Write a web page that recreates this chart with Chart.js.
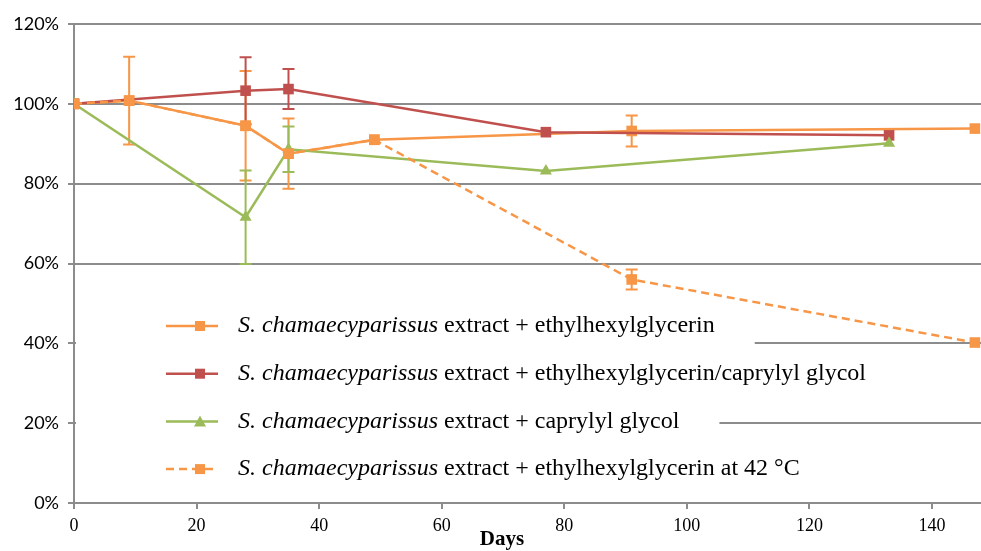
<!DOCTYPE html>
<html>
<head>
<meta charset="utf-8">
<script src="https://cdn.jsdelivr.net/npm/chart.js@4/dist/chart.umd.min.js"></script>
<style>
  html, body { margin: 0; padding: 0; background: #fff; }
  canvas { display: block; }
</style>
</head>
<body>
<canvas id="stabilityChart" width="981" height="551"></canvas>
<script>
// species name is set in italics in the legend
const species = 'S. chamaecyparissus';
const seriesNames = [
    ' extract + ethylhexylglycerin',
    ' extract + ethylhexylglycerin/caprylyl glycol',
    ' extract + caprylyl glycol',
    ' extract + ethylhexylglycerin at 42 \u00B0C'
];

// days of sampling and remaining content (%) per series
const daysEhg = [0, 9, 28, 35, 49, 91, 147];
const valsEhg = [100, 100.8, 94.5, 87.5, 91, 93.2, 93.8];
const errEhg = [0, 11, 13.7, 8.8, 0, 3.9, 0];

const daysEhgCg = [0, 28, 35, 77, 133];
const valsEhgCg = [100, 103.3, 103.7, 92.9, 92.1];
const errEhgCg = [0, 8.4, 5, 0, 0];

const daysCg = [0, 28, 35, 77, 133];
const valsCg = [100, 71.6, 88.6, 83.2, 90.1];
const errCg = [0, 11.7, 5.7, 0, 0];

const daysHot = [0, 9, 28, 35, 49, 91, 147];
const valsHot = [100, 100.8, 94.5, 87.5, 91, 56, 40.2];
const errHot = [0, 0, 0, 0, 0, 2.5, 0];

const yTicks = [0, 20, 40, 60, 80, 100, 120];

const ORANGE = '#F79646';
const RED = '#C0504D';
const GREEN = '#9BBB59';
const GRID = '#8C8C8C';
const LEGEND_FONT = '24px "Liberation Serif"';

const toPoints = (days, vals) => days.map((d, i) => ({ x: d, y: vals[i] }));

// vertical error bars with caps, drawn under the markers
const errorBars = {
    id: 'errorBars',
    beforeDatasetsDraw(chart) {
        const { ctx, scales: { x, y } } = chart;
        chart.data.datasets.forEach((ds) => {
            if (!ds.errors) {
                return;
            }
            ctx.save();
            ctx.strokeStyle = ds.borderColor;
            ctx.lineWidth = 2;
            ds.data.forEach((p, i) => {
                const e = ds.errors[i];
                if (!e) {
                    return;
                }
                const px = x.getPixelForValue(p.x);
                const top = y.getPixelForValue(p.y + e);
                const bot = y.getPixelForValue(p.y - e);
                ctx.beginPath();
                ctx.moveTo(px, top);
                ctx.lineTo(px, bot);
                ctx.moveTo(px - 6, top);
                ctx.lineTo(px + 6, top);
                ctx.moveTo(px - 6, bot);
                ctx.lineTo(px + 6, bot);
                ctx.stroke();
            });
            ctx.restore();
        });
    }
};

// legend inside the plot, with white boxes behind the entries
const insideLegend = {
    id: 'insideLegend',
    beforeDatasetsDraw(chart) {
        const { ctx, chartArea } = chart;
        ctx.save();
        chart.data.datasets.forEach((ds, row) => {
            const cy = 326 + row * 47.7;
            ctx.font = 'italic ' + LEGEND_FONT;
            const w1 = ctx.measureText(species).width;
            ctx.font = LEGEND_FONT;
            const w2 = ctx.measureText(ds.rest).width;
            const textEnd = 238 + w1 + w2;

            ctx.fillStyle = '#fff';
            ctx.fillRect(chartArea.left + 2, cy - 22, textEnd + 40 - chartArea.left - 2, 44);

            ctx.strokeStyle = ds.borderColor;
            ctx.lineWidth = 2.5;
            ctx.setLineDash(ds.borderDash || []);
            ctx.beginPath();
            ctx.moveTo(166, cy);
            ctx.lineTo(218, cy);
            ctx.stroke();
            ctx.setLineDash([]);

            ctx.fillStyle = ds.borderColor;
            ctx.beginPath();
            if (ds.pointStyle === 'triangle') {
                ctx.moveTo(200, cy - 6);
                ctx.lineTo(206, cy + 5);
                ctx.lineTo(194, cy + 5);
                ctx.closePath();
            } else {
                ctx.rect(195, cy - 5, 10, 10);
            }
            ctx.fill();

            ctx.fillStyle = '#000';
            ctx.textBaseline = 'middle';
            ctx.font = 'italic ' + LEGEND_FONT;
            ctx.fillText(species, 238, cy);
            ctx.font = LEGEND_FONT;
            ctx.fillText(ds.rest, 238 + w1, cy);
        });
        ctx.restore();
    },
    afterDraw(chart) {
        const { ctx } = chart;
        ctx.save();
        ctx.fillStyle = '#000';
        ctx.font = 'bold 21px "Liberation Serif"';
        ctx.textAlign = 'center';
        ctx.textBaseline = 'middle';
        ctx.fillText('Days', 502, 540);
        ctx.restore();
    }
};

const ctx = document.getElementById('stabilityChart').getContext('2d');

new Chart(ctx, {
    type: 'line',
    data: {
        datasets: [
            {
                label: species + seriesNames[0],
                rest: seriesNames[0],
                data: toPoints(daysEhg, valsEhg),
                errors: errEhg,
                borderColor: ORANGE,
                backgroundColor: ORANGE,
                borderWidth: 2.5,
                pointStyle: 'rect',
                pointRadius: 7.5,
                pointBorderWidth: 0,
                order: 4
            },
            {
                label: species + seriesNames[1],
                rest: seriesNames[1],
                data: toPoints(daysEhgCg, valsEhgCg),
                errors: errEhgCg,
                borderColor: RED,
                backgroundColor: RED,
                borderWidth: 2.5,
                pointStyle: 'rect',
                pointRadius: 7.5,
                pointBorderWidth: 0,
                order: 3
            },
            {
                label: species + seriesNames[2],
                rest: seriesNames[2],
                data: toPoints(daysCg, valsCg),
                errors: errCg,
                borderColor: GREEN,
                backgroundColor: GREEN,
                borderWidth: 2.5,
                pointStyle: 'triangle',
                pointRadius: 7,
                pointBorderWidth: 0,
                order: 2
            },
            {
                label: species + seriesNames[3],
                rest: seriesNames[3],
                data: toPoints(daysHot, valsHot),
                errors: errHot,
                borderColor: ORANGE,
                backgroundColor: ORANGE,
                borderWidth: 2.5,
                borderDash: [8, 5],
                pointStyle: 'rect',
                pointRadius: 7.5,
                pointBorderWidth: 0,
                order: 1
            }
        ]
    },
    options: {
        responsive: false,
        animation: false,
        devicePixelRatio: 1,
        layout: {
            autoPadding: false,
            padding: { top: 24, right: 0, left: 0, bottom: 0 }
        },
        plugins: {
            legend: { display: false },
            tooltip: { enabled: false }
        },
        scales: {
            x: {
                type: 'linear',
                min: 0,
                max: 148,
                afterBuildTicks: (scale) => {
                    scale.ticks = scale.ticks.filter((t) => t.value % 20 === 0);
                },
                afterFit: (scale) => {
                    scale.height = 48;
                },
                ticks: {
                    stepSize: 20,
                    includeBounds: false,
                    color: '#000',
                    padding: 6,
                    font: { family: '"Liberation Serif"', size: 18 }
                },
                grid: {
                    drawOnChartArea: false,
                    color: GRID,
                    lineWidth: 2,
                    tickLength: 6
                },
                border: { color: GRID, width: 2 }
            },
            y: {
                min: 0,
                max: 120,
                afterBuildTicks: (scale) => {
                    scale.ticks = yTicks.map((v) => ({ value: v }));
                },
                afterFit: (scale) => {
                    scale.width = 74;
                },
                ticks: {
                    color: '#000',
                    padding: 9,
                    font: { family: 'Lato', size: 18 },
                    callback: (v) => v + '%'
                },
                grid: {
                    color: GRID,
                    lineWidth: 2,
                    tickLength: 6
                },
                border: { color: GRID, width: 2 }
            }
        }
    },
    plugins: [insideLegend, errorBars]
});
</script>
</body>
</html>
